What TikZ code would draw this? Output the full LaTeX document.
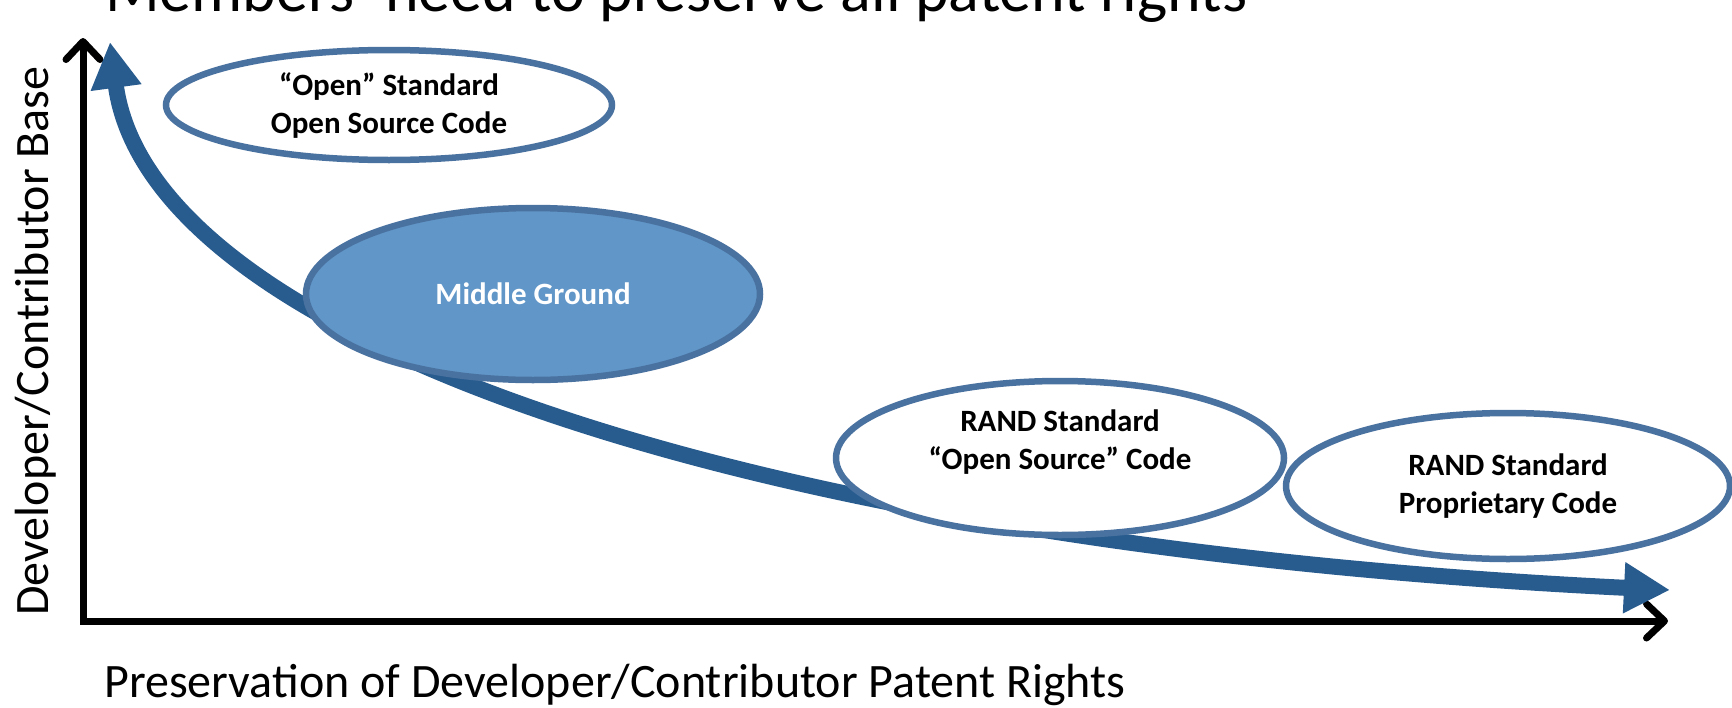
\documentclass[tikz,border=0pt]{standalone}
\usepackage{fontspec}
\setmainfont{Carlito}
\usetikzlibrary{arrows.meta,shapes.geometric}
\definecolor{ellline}{HTML}{4A72A0}
\definecolor{midfill}{HTML}{6096C8}
\definecolor{curveblue}{HTML}{285C8F}
\tikzset{
  labelfont/.style={font=\bfseries\fontsize{31}{38}\selectfont},
  bubble/.style={ellipse, draw=ellline, line width=6.5pt, fill=white, inner sep=0pt,
     align=center, labelfont, text=black},
  axislabel/.style={font=\fontsize{48}{54}\selectfont, inner sep=0pt},
  axisline/.style={line width=7pt, black, {Straight Barb[length=18pt,width=34pt,line cap=round,line join=round]}-{Straight Barb[length=18pt,width=34pt,line cap=round,line join=round]}, line join=miter},
  trend/.style={line width=16pt, curveblue, {Triangle[length=46pt,width=48pt]}-{Triangle[length=46pt,width=48pt]}}
}
\begin{document}
\begin{tikzpicture}[x=1pt,y=-1pt]
\useasboundingbox (0,0) rectangle (1732,707);
\clip (0,0) rectangle (1732,707);
\fill[white] (0,0) rectangle (1732,707);
% title (cut off at top)
\node[anchor=base west, font=\fontsize{64}{68}\selectfont, inner sep=0pt] (title) at (105,11) {Members’ need to preserve all patent rights};
% axes
\coordinate (ytop) at (83,38);
\coordinate (origin) at (83,621);
\coordinate (xend) at (1668,621);
\draw[axisline] (ytop) -- (origin) -- (xend);
% trend curve
\coordinate (ctop) at (110,42);
\coordinate (cend) at (1670,590);
\draw[trend] (ctop) .. controls (150,340) and (750,545) .. (cend);
% ellipses
\node[bubble, minimum width=446pt, minimum height=110pt] (open) at (389,105) {“Open” Standard\\Open Source Code};
\node[bubble, fill=midfill, text=white, minimum width=454pt, minimum height=172pt] (middle) at (533,294) {Middle Ground};
\node[bubble, minimum width=448pt, minimum height=154pt] (randos) at (1060,458) {};
\node[align=center, labelfont, inner sep=0pt] (randostext) at (1060,442) {RAND Standard\\“Open Source” Code};
\node[bubble, minimum width=444pt, minimum height=146pt] (randprop) at (1508,486) {RAND Standard\\Proprietary Code};
% axis labels
\node[axislabel, anchor=base west] (xlabel) at (104,697) {Preservation of Developer/Contributor Patent Rights};
\node[axislabel, anchor=base, rotate=90] (ylabel) at (48,341) {Developer/Contributor Base};
\end{tikzpicture}
\end{document}
